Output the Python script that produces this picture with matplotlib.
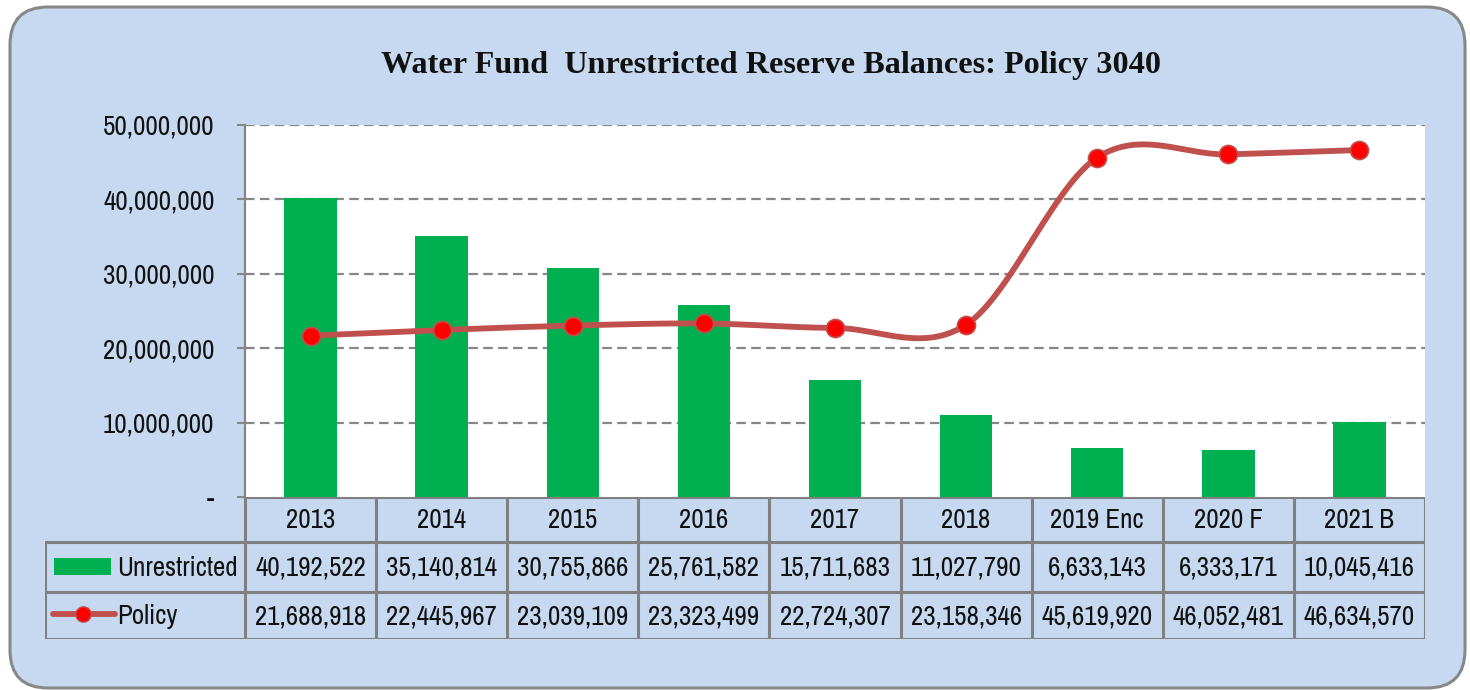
import numpy as np
import matplotlib
matplotlib.use("Agg")
import matplotlib.pyplot as plt
from matplotlib.patches import FancyBboxPatch, Rectangle
from matplotlib.lines import Line2D
from matplotlib.ticker import FuncFormatter
from matplotlib.transforms import IdentityTransform
from matplotlib.font_manager import FontProperties
from matplotlib.textpath import TextPath
from matplotlib import font_manager

# ---------------- data ----------------
categories = ["2013", "2014", "2015", "2016", "2017", "2018", "2019 Enc", "2020 F", "2021 B"]
unrestricted = [40192522, 35140814, 30755866, 25761582, 15711683, 11027790, 6633143, 6333171, 10045416]
policy = [21688918, 22445967, 23039109, 23323499, 22724307, 23158346, 45619920, 46052481, 46634570]
series_names = ["Unrestricted", "Policy"]
title = "Water Fund  Unrestricted Reserve Balances: Policy 3040"
y_ticks = [0, 10000000, 20000000, 30000000, 40000000, 50000000]

# ---------------- style ----------------
W, H = 1470, 690
BG = "#C6D9F0"
GREEN = "#00B050"
LINE = "#C0504D"
MARK = "#FF0000"
GRID = "#868686"

avail = {f.name for f in font_manager.fontManager.ttflist}

def pick(cands, default):
    for c in cands:
        if c in avail:
            return c
    return default

SANS = pick(["Liberation Sans Narrow", "Arial Narrow", "Archivo Narrow", "PT Sans Narrow",
             "Roboto Condensed", "Open Sans Condensed"], "Liberation Sans")
SERIF = pick(["Liberation Serif"], "DejaVu Serif")
narrow = [SANS, "DejaVu Sans"]
serif = [SERIF, "DejaVu Serif"]

def fit_size(text, fam, target_w, sample_h, target_h, weight="normal"):
    fp = FontProperties(family=fam, weight=weight)
    ref = 20.0
    w = TextPath((0, 0), text, size=ref, prop=fp).get_extents().width * 100 / 72
    h = TextPath((0, 0), sample_h, size=ref, prop=fp).get_extents().height * 100 / 72
    return min(ref * target_w / w, ref * target_h / h)

FS = fit_size("40,192,522", narrow, 109, "0", 23)
TFS = fit_size(title, serif, 777, "W", 24, weight="bold")

fig = plt.figure(figsize=(W / 100, H / 100), dpi=100)
fig.patch.set_facecolor("white")

# rounded chart-area frame (pixel coordinates)
frame = FancyBboxPatch((10, 2), 1455, 681, boxstyle="round,pad=0,rounding_size=38",
                       transform=IdentityTransform(), facecolor=BG, edgecolor="#888888",
                       linewidth=2.2, zorder=-10)
fig.patches.append(frame)

def fx(px):
    return px / W

def fy(py):
    return 1 - py / H

# ---------------- main axes ----------------
PL, PR, PT, PB = 245, 1425, 125, 497
ax = fig.add_axes([fx(PL), fy(PB), fx(PR - PL), (PB - PT) / H])
ax.set_facecolor("white")
x = np.arange(len(categories))
ax.set_xlim(-0.5, len(categories) - 0.5)
ax.set_ylim(0, 50000000)

ax.bar(x, unrestricted, width=0.4, color=GREEN, zorder=2)

# Excel-like smoothed line (Catmull-Rom through the data points)
P = np.column_stack([np.array(x, dtype=float), np.array(policy, dtype=float)])
Pext = np.vstack([P[0], P, P[-1]])
curve = []
for i in range(len(P) - 1):
    p0, p1, p2, p3 = Pext[i], Pext[i + 1], Pext[i + 2], Pext[i + 3]
    c1 = p1 + (p2 - p0) / 6
    c2 = p2 - (p3 - p1) / 6
    t = np.linspace(0, 1, 40)[:, None]
    seg = (1 - t) ** 3 * p1 + 3 * (1 - t) ** 2 * t * c1 + 3 * (1 - t) * t ** 2 * c2 + t ** 3 * p2
    curve.append(seg if i == 0 else seg[1:])
curve = np.vstack(curve)
ax.plot(curve[:, 0], curve[:, 1], color=LINE, lw=4.2, zorder=3, solid_capstyle="round")
ax.plot(x, policy, ls="none", marker="o", ms=13, mfc=MARK, mec=LINE, mew=1.2, zorder=4)

ax.set_yticks(y_ticks)
ax.yaxis.set_major_formatter(FuncFormatter(lambda v, p: "-" if v == 0 else f"{int(v):,}"))
ax.set_xticks([])
for t in ax.get_yticklabels():
    t.set_fontfamily(narrow)
    t.set_fontsize(FS)
    t.set_color("#111111")
ax.tick_params(axis="y", length=6, width=1.5, color=GRID, pad=16)
for yv in y_ticks[1:]:
    ax.axhline(yv, color=GRID, lw=1.6, ls=(0, (4.3, 2.4)), zorder=1)
for s in ["top", "right", "bottom"]:
    ax.spines[s].set_visible(False)
ax.spines["left"].set_color(GRID)
ax.spines["left"].set_linewidth(1.6)

# ---------------- data table ----------------
TL, TT, TB = 45, 497, 639
colw = (PR - PL) / len(categories)
xmin = -0.5 - (PL - TL) / colw
tax = fig.add_axes([fx(TL), fy(TB), fx(PR - TL), (TB - TT) / H])
tax.set_xlim(xmin, len(categories) - 0.5)
tax.set_ylim(TB, TT)
tax.axis("off")
tax.patch.set_alpha(0)

def tx(px):
    return xmin + (px - TL) / colw

rows = [497, 542, 592, 639]
lc = dict(color="#808080", lw=2.2, solid_capstyle="projecting", zorder=2)
tax.plot([-0.5, len(categories) - 0.5], [rows[0]] * 2, **lc)
for r in rows[1:]:
    tax.plot([xmin, len(categories) - 0.5], [r] * 2, **lc)
tax.plot([xmin, xmin], [rows[1], rows[3]], **lc)
for k in range(len(categories) + 1):
    tax.plot([k - 0.5, k - 0.5], [rows[0], rows[3]], **lc)

tk = dict(fontfamily=narrow, fontsize=FS, color="#111111", ha="center", va="center")
for i, c in enumerate(categories):
    tax.text(i, (rows[0] + rows[1]) / 2 + 1, c, **tk)
    tax.text(i, (rows[1] + rows[2]) / 2 + 1, f"{unrestricted[i]:,}", **tk)
    tax.text(i, (rows[2] + rows[3]) / 2 + 1, f"{policy[i]:,}", **tk)

# legend keys
tax.add_patch(Rectangle((tx(54), 558), tx(111) - tx(54), 17, facecolor=GREEN, edgecolor="none", zorder=3))
tax.add_line(Line2D([tx(53), tx(115)], [614, 614], color=LINE, lw=4.2, solid_capstyle="round", zorder=3))
tax.add_line(Line2D([tx(83)], [614], ls="none", marker="o", ms=11, mfc=MARK, mec=LINE, mew=1.0, zorder=4))
lk = dict(tk)
lk["ha"] = "left"
tax.text(tx(117), (rows[1] + rows[2]) / 2 + 1, series_names[0], **lk)
tax.text(tx(117), (rows[2] + rows[3]) / 2 + 1, series_names[1], **lk)

# ---------------- title ----------------
fig.text(fx(771), fy(66), title, ha="center", va="center",
         fontfamily=serif, fontweight="bold", fontsize=TFS, color="#111111")

fig.savefig("out.png", dpi=100)
